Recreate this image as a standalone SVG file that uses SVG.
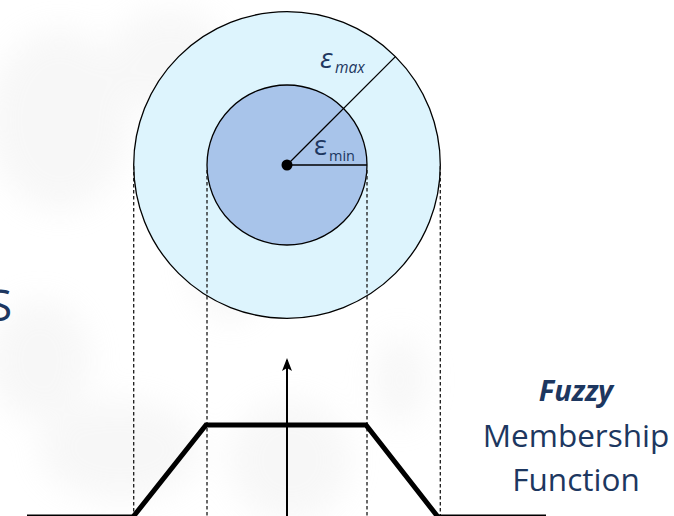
<svg xmlns="http://www.w3.org/2000/svg" width="674" height="516" viewBox="0 0 674 516">
  <style>
    .label { font-family: "Open Sans", "Liberation Sans", sans-serif; fill: #1d3760; }
    .guide { stroke: #1a1a1a; stroke-width: 1.3; stroke-dasharray: 3.5 2.5; fill: none; }
    .ring { stroke: #000000; stroke-width: 1.3; }
    .axis { stroke: #000000; stroke-width: 1.5; fill: none; }
  </style>
  <defs>
    <filter id="haze" x="-50%" y="-50%" width="200%" height="200%">
      <feGaussianBlur stdDeviation="16"/>
    </filter>
    <marker id="arrowhead" markerWidth="13" markerHeight="10" refX="11" refY="5" orient="auto" markerUnits="userSpaceOnUse" viewBox="0 0 13 10">
      <path d="M0,0 L13,5 L0,10 L3,5 Z" fill="#000000"/>
    </marker>
  </defs>

  <!-- page background with faint washed-out texture -->
  <rect width="674" height="516" fill="#ffffff"/>
  <g id="background-texture" filter="url(#haze)" fill="#dcdcdc" opacity="0.22">
    <ellipse cx="60" cy="120" rx="70" ry="90"/>
    <ellipse cx="170" cy="60" rx="60" ry="50"/>
    <ellipse cx="40" cy="360" rx="50" ry="60"/>
    <ellipse cx="120" cy="450" rx="80" ry="50"/>
    <ellipse cx="230" cy="260" rx="40" ry="60"/>
    <ellipse cx="290" cy="460" rx="60" ry="60"/>
    <ellipse cx="400" cy="380" rx="25" ry="45"/>
  </g>

  <!-- partially visible heading letter at the left edge -->
  <text class="label" x="-12" y="321" font-size="44">S</text>

  <!-- tolerance region: outer and inner circles -->
  <g id="outer-circle">
    <circle cx="287" cy="165" r="153.3" fill="#ddf4fd" class="ring"/>
  </g>
  <g id="inner-circle">
    <circle cx="287" cy="165" r="80" fill="#a8c4ea" class="ring"/>
  </g>

  <!-- projection guides -->
  <g id="guides">
    <line class="guide" x1="133.7" y1="166" x2="133.7" y2="516"/>
    <line class="guide" x1="207" y1="170" x2="207" y2="516"/>
    <line class="guide" x1="367" y1="170" x2="367" y2="516"/>
    <line class="guide" x1="440.3" y1="166" x2="440.3" y2="516"/>
  </g>

  <!-- radii and labels -->
  <g id="radii">
    <line x1="287" y1="165" x2="395.4" y2="56.6" stroke="#000000" stroke-width="1.3"/>
    <line x1="287" y1="165" x2="367" y2="165" stroke="#000000" stroke-width="1.3"/>
    <circle id="center" cx="287" cy="165" r="5.5" fill="#000000"/>
  </g>
  <g id="label-max">
    <text class="label" x="320" y="68" font-size="28" font-style="italic">ε</text>
    <text class="label" x="335" y="73" font-size="15.5" font-style="italic">max</text>
  </g>
  <g id="label-min">
    <text class="label" x="314" y="155" font-size="27">ε</text>
    <text class="label" x="329" y="161" font-size="14.5">min</text>
  </g>

  <!-- membership function plot -->
  <g id="connectors">
    <line class="axis" x1="27" y1="515.2" x2="133" y2="515.2"/>
    <line class="axis" x1="438" y1="515.2" x2="546" y2="515.2"/>
    <line x1="287" y1="516" x2="287" y2="360" stroke="#000000" stroke-width="2" marker-end="url(#arrowhead)"/>
  </g>
  <g id="membership-curve">
    <polyline points="133,517 206,425 366,425 438,517" fill="none" stroke="#000000" stroke-width="5" stroke-linejoin="miter"/>
  </g>

  <!-- caption -->
  <g id="caption">
    <text class="label" x="576" y="401" font-size="29" font-weight="bold" font-style="italic" text-anchor="middle">Fuzzy</text>
    <text class="label" x="576" y="447" font-size="31.5" text-anchor="middle">Membership</text>
    <text class="label" x="576" y="491" font-size="31.5" text-anchor="middle">Function</text>
  </g>
</svg>
